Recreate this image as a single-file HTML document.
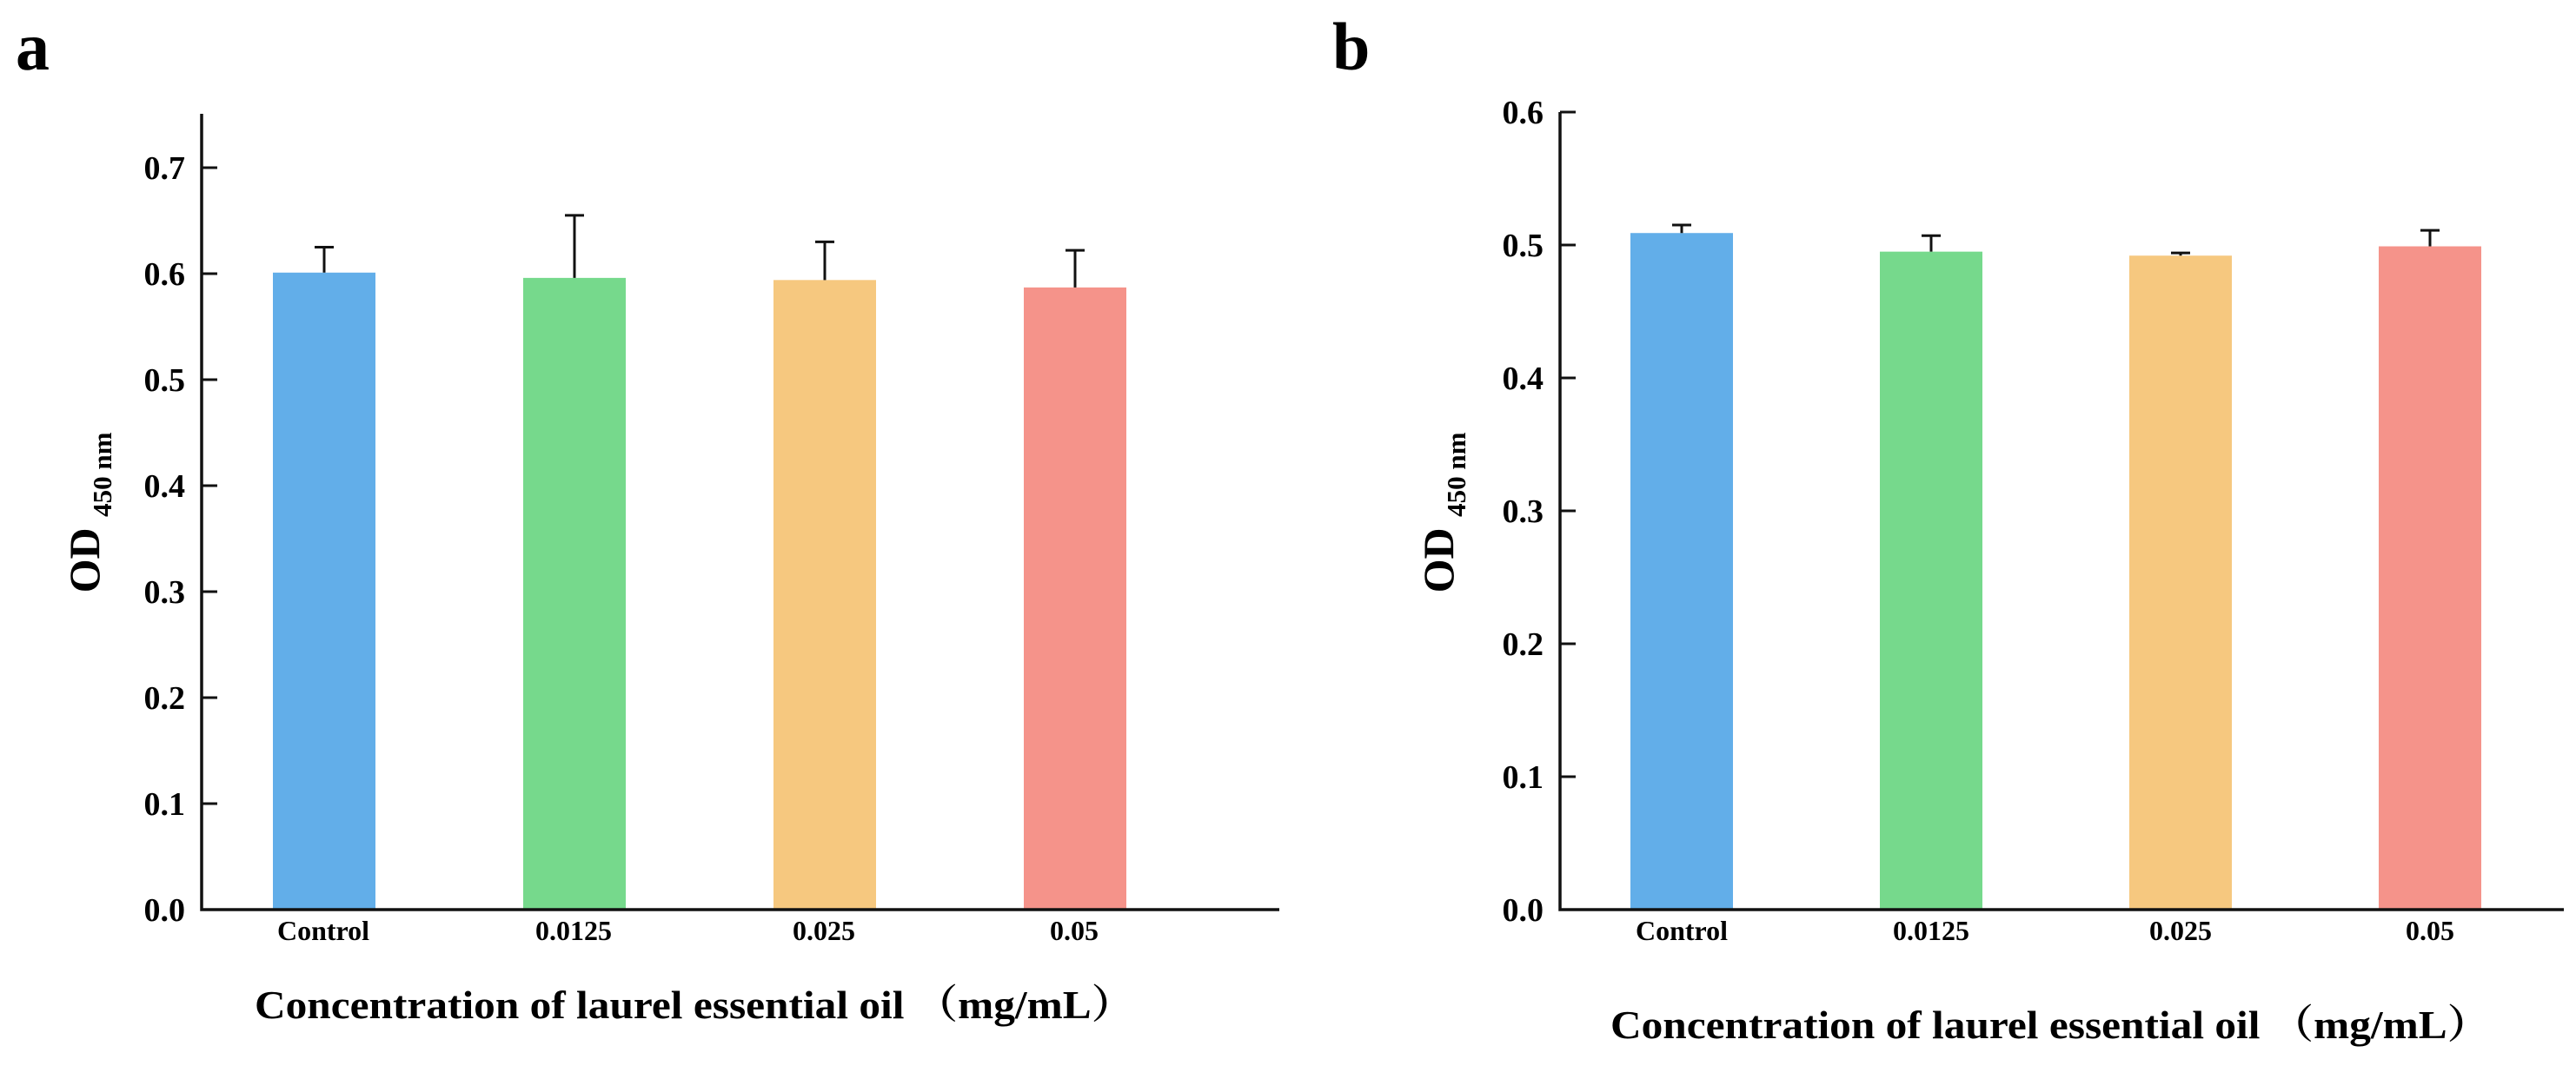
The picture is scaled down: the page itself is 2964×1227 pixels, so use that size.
<!DOCTYPE html>
<html><head><meta charset="utf-8"><style>
html,body{margin:0;padding:0;background:#fff;}
svg{display:block;font-family:"Liberation Serif",serif;font-weight:bold;}
</style></head><body>
<svg id="fig" width="2964" height="1227" viewBox="0 0 2964 1227" xmlns="http://www.w3.org/2000/svg">
<text x="18" y="80" font-size="78">a</text>
<text x="1533" y="80" font-size="78">b</text>
</svg>
<script>
const categories = ["Control", "0.0125", "0.025", "0.05"];
const colors = ["#62aee9", "#76d98c", "#f6c87f", "#f5938a"];
const valuesA = [0.601, 0.596, 0.594, 0.587];
const errTopA = [0.625, 0.655, 0.630, 0.622];
const ticksA = ["0.0","0.1","0.2","0.3","0.4","0.5","0.6","0.7"];
const valuesB = [0.509, 0.495, 0.492, 0.499];
const errTopB = [0.515, 0.507, 0.494, 0.511];
const ticksB = ["0.0","0.1","0.2","0.3","0.4","0.5","0.6"];

const NS = "http://www.w3.org/2000/svg";
const svg = document.getElementById("fig");
function mk(tag, attrs, parent){ const e=document.createElementNS(NS,tag); for(const k in attrs) e.setAttribute(k,attrs[k]); (parent||svg).appendChild(e); return e; }

function panel(p){
  const g = mk("g",{});
  
  
  const y = v => p.y0 - v / p.vmax * (p.y0 - p.yTop);
  const xs = i => p.x0 + i * p.step;
  for(let i=0;i<categories.length;i++){
    const v = p.values[i];
    const r = mk("rect",{x:xs(i), y:y(v), width:p.bw, height:p.y0-y(v), fill:colors[i]}, g);
    
    
    const cx = xs(i) + p.bw/2;
    const eb = mk("path",{d:`M${cx},${y(v)} V${y(p.err[i])} M${cx-11},${y(p.err[i])} H${cx+11}`, stroke:"#111", "stroke-width":3, fill:"none"}, g);
    
    
    const t = mk("text",{x:cx+p.lblOff, y:p.y0+35, "font-size":32, "text-anchor":"middle"}, g);
    t.textContent = categories[i];
    
    
  }
  const ax = mk("path",{d:`M${p.ax},${p.axTop} V${p.y0} H${p.axEnd}`, stroke:"#111", "stroke-width":3.5, fill:"none"}, g);
  
  
  for(let k=0;k<p.ticks.length;k++){
    const v = parseFloat(p.ticks[k]); const ty = y(v);
    if(k>0){
      const tk = mk("line",{x1:p.ax, x2:p.ax+18, y1:ty, y2:ty, stroke:"#111", "stroke-width":3}, g);
      
      
    }
    const tl = mk("text",{x:p.ax-19, y:ty+13, "font-size":38, "text-anchor":"end"}, g);
    tl.textContent = p.ticks[k];
    
    
  }
  const yt = mk("text",{transform:`translate(${p.ylx},${p.yly}) rotate(-90)`, "font-size":50, "text-anchor":"middle"}, g);
  
  
  const s1 = mk("tspan",{}, yt); s1.textContent = "OD ";
  const s2 = mk("tspan",{"font-size":31, dy:14}, yt); s2.textContent = "450 nm";
  const xt = mk("text",{x:p.xtx, y:p.xty, "font-size":46, textLength:p.xtw, lengthAdjust:"spacingAndGlyphs"}, g);
  
  
  xt.setAttribute('font-family', '"Liberation Serif","Noto Serif CJK SC",serif');
  xt.textContent = "Concentration  of  laurel essential oil （mg/mL）";
}

panel({name:"panel-a", values:valuesA, err:errTopA, ticks:ticksA, vmax:0.7, y0:1047, yTop:193,
  ax:232, axTop:131, axEnd:1472, x0:314, step:288, bw:118, lblOff:-1,
  ylx:114, yly:590, xtx:293, xty:1172, xtw:1012});
panel({name:"panel-b", values:valuesB, err:errTopB, ticks:ticksB, vmax:0.6, y0:1047, yTop:129,
  ax:1795, axTop:129, axEnd:2950, x0:1876, step:287, bw:118, lblOff:0,
  ylx:1672, yly:590, xtx:1853, xty:1195, xtw:1012});
</script>
</body></html>
